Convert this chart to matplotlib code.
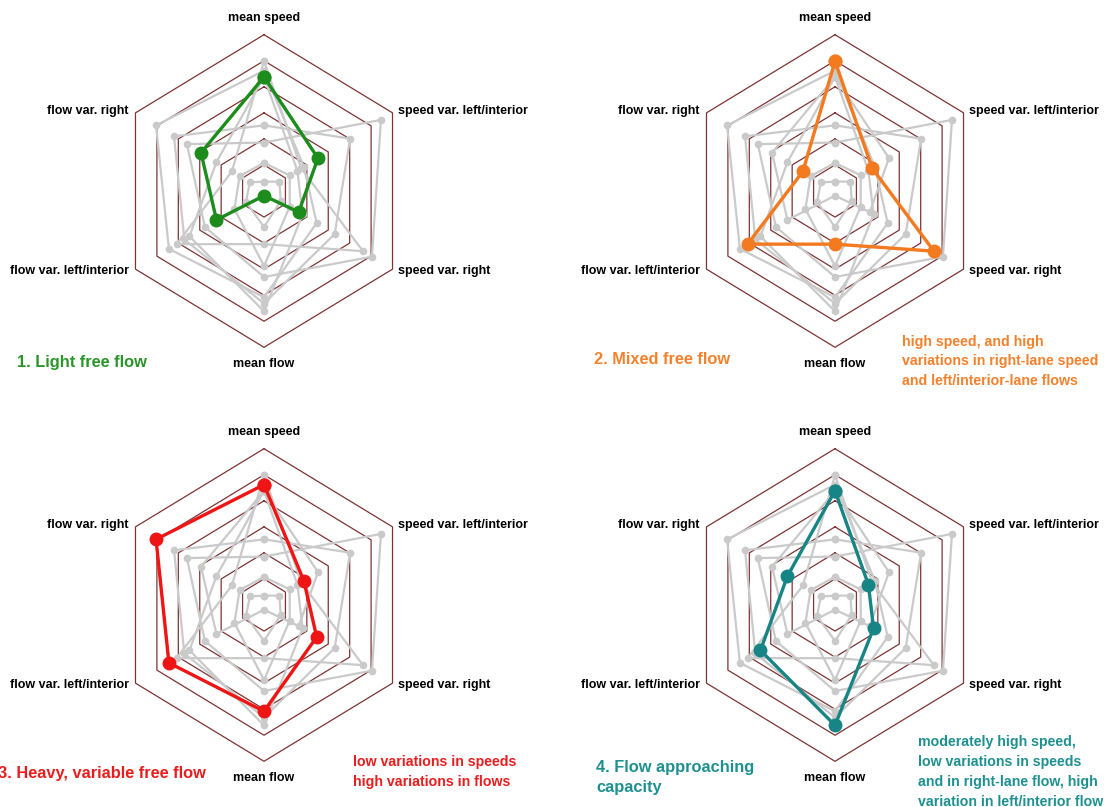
import matplotlib
matplotlib.use("Agg")
import matplotlib.pyplot as plt
import numpy as np

plt.rcParams['font.family'] = ['Liberation Sans', 'DejaVu Sans']

# axes of the radar, clockwise from the top
variables = ["mean speed", "speed var. left/interior", "speed var. right",
             "mean flow", "flow var. left/interior", "flow var. right"]
angles_deg = [90, 30, -30, -90, -150, 150]
n_rings = 6

# normalised cluster profiles (same order as variables)
light_free = [0.73, 0.42, 0.27, 0.03, 0.37, 0.49]
mixed_free = [0.83, 0.29, 0.77, 0.34, 0.68, 0.25]
heavy_var = [0.77, 0.31, 0.41, 0.68, 0.74, 0.84]
near_cap = [0.73, 0.26, 0.30, 0.77, 0.58, 0.37]
state_5 = [0.42, 0.67, 0.55, 0.72, 0.62, 0.70]
state_6 = [0.31, 0.91, 0.84, 0.55, 0.46, 0.60]
state_7 = [0.18, 0.20, 0.20, 0.48, 0.23, 0.19]
state_8 = [0.06, 0.12, 0.13, 0.23, 0.14, 0.11]
clusters = [light_free, mixed_free, heavy_var, near_cap,
            state_5, state_6, state_7, state_8]

titles = ["1. Light free flow", "2. Mixed free flow",
          "3. Heavy, variable free flow", "4. Flow approaching\ncapacity"]
notes = ["",
         "high speed, and high\nvariations in right-lane speed\nand left/interior-lane flows",
         "low variations in speeds\nhigh variations in flows",
         "moderately high speed,\nlow variations in speeds\nand in right-lane flow, high\nvariation in left/interior flow"]
colors = ["#1c8c1c", "#f47a1f", "#f01515", "#178585"]
title_colors = ["#2a962a", "#f4812c", "#e81e1e", "#1f9090"]

# layout in pixels
W, H = 1117, 807
centers = [(264, 191), (835, 191), (264, 605), (835, 605)]
ux, uy = 148.4, 156.3   # pixels per unit radius (horizontal, vertical)
ext = 1.15
title_pos = [(-1.665, -1.095), (-1.625, -1.075), (-1.79, -1.08), (-1.61, -0.99)]
note_pos = [(0.45, -0.92), (0.45, -0.92), (0.60, -0.96), (0.56, -0.83)]
note_spacing = [1.5, 1.5, 1.5, 1.55]

theta = np.deg2rad(angles_deg)

fig = plt.figure(figsize=(W / 100, H / 100), dpi=100)

for k in range(4):
    cx, cy = centers[k]
    left = (cx - ext * ux) / W
    bottom = (H - cy - ext * uy) / H
    ax = fig.add_axes([left, bottom, 2 * ext * ux / W, 2 * ext * uy / H])
    ax.set_xlim(-ext, ext)
    ax.set_ylim(-ext, ext)
    ax.axis('off')

    # hexagonal grid
    for i in range(1, n_rings + 1):
        r = i / n_rings
        hx = np.append(r * np.cos(theta), r * np.cos(theta[0]))
        hy = np.append(r * np.sin(theta), r * np.sin(theta[0]))
        ax.plot(hx, hy, color="#7d3434", lw=0.9, zorder=1)

    # all clusters in grey
    for c in clusters:
        v = np.array(c + [c[0]])
        t = np.append(theta, theta[0])
        ax.plot(v * np.cos(t), v * np.sin(t), color="#cacaca", lw=1.6,
                marker='o', ms=4.5, mec="#cacaca", zorder=2)

    # highlighted cluster
    c = clusters[k]
    v = np.array(c + [c[0]])
    t = np.append(theta, theta[0])
    ax.plot(v * np.cos(t), v * np.sin(t), color=colors[k], lw=2.4,
            marker='o', ms=9, zorder=3)

    # axis labels
    for name, a in zip(variables, angles_deg):
        if a == 90:
            ax.text(0, 1.11, name, ha='center', va='center', fontsize=9,
                    fontweight='bold', clip_on=False)
        elif a == -90:
            ax.text(0, -1.105, name, ha='center', va='center', fontsize=9,
                    fontweight='bold', clip_on=False)
        elif a in (30, -30):
            ax.text(0.9, 0.515 * np.sign(a), name, ha='left', va='center',
                    fontsize=9, fontweight='bold', clip_on=False)
        else:
            ax.text(-0.91, 0.515 * np.sign(np.sin(np.deg2rad(a))), name,
                    ha='right', va='center', fontsize=9, fontweight='bold',
                    clip_on=False)

    ax.text(title_pos[k][0], title_pos[k][1], titles[k], ha='left', va='top'
            if k == 3 else 'center', fontsize=11.8, fontweight='bold',
            color=title_colors[k], clip_on=False, linespacing=1.45)
    if notes[k]:
        ax.text(note_pos[k][0], note_pos[k][1], notes[k], ha='left',
                va='top', fontsize=10.2, fontweight='bold',
                color=title_colors[k], clip_on=False,
                linespacing=note_spacing[k])

fig.savefig("out.png", dpi=100)
